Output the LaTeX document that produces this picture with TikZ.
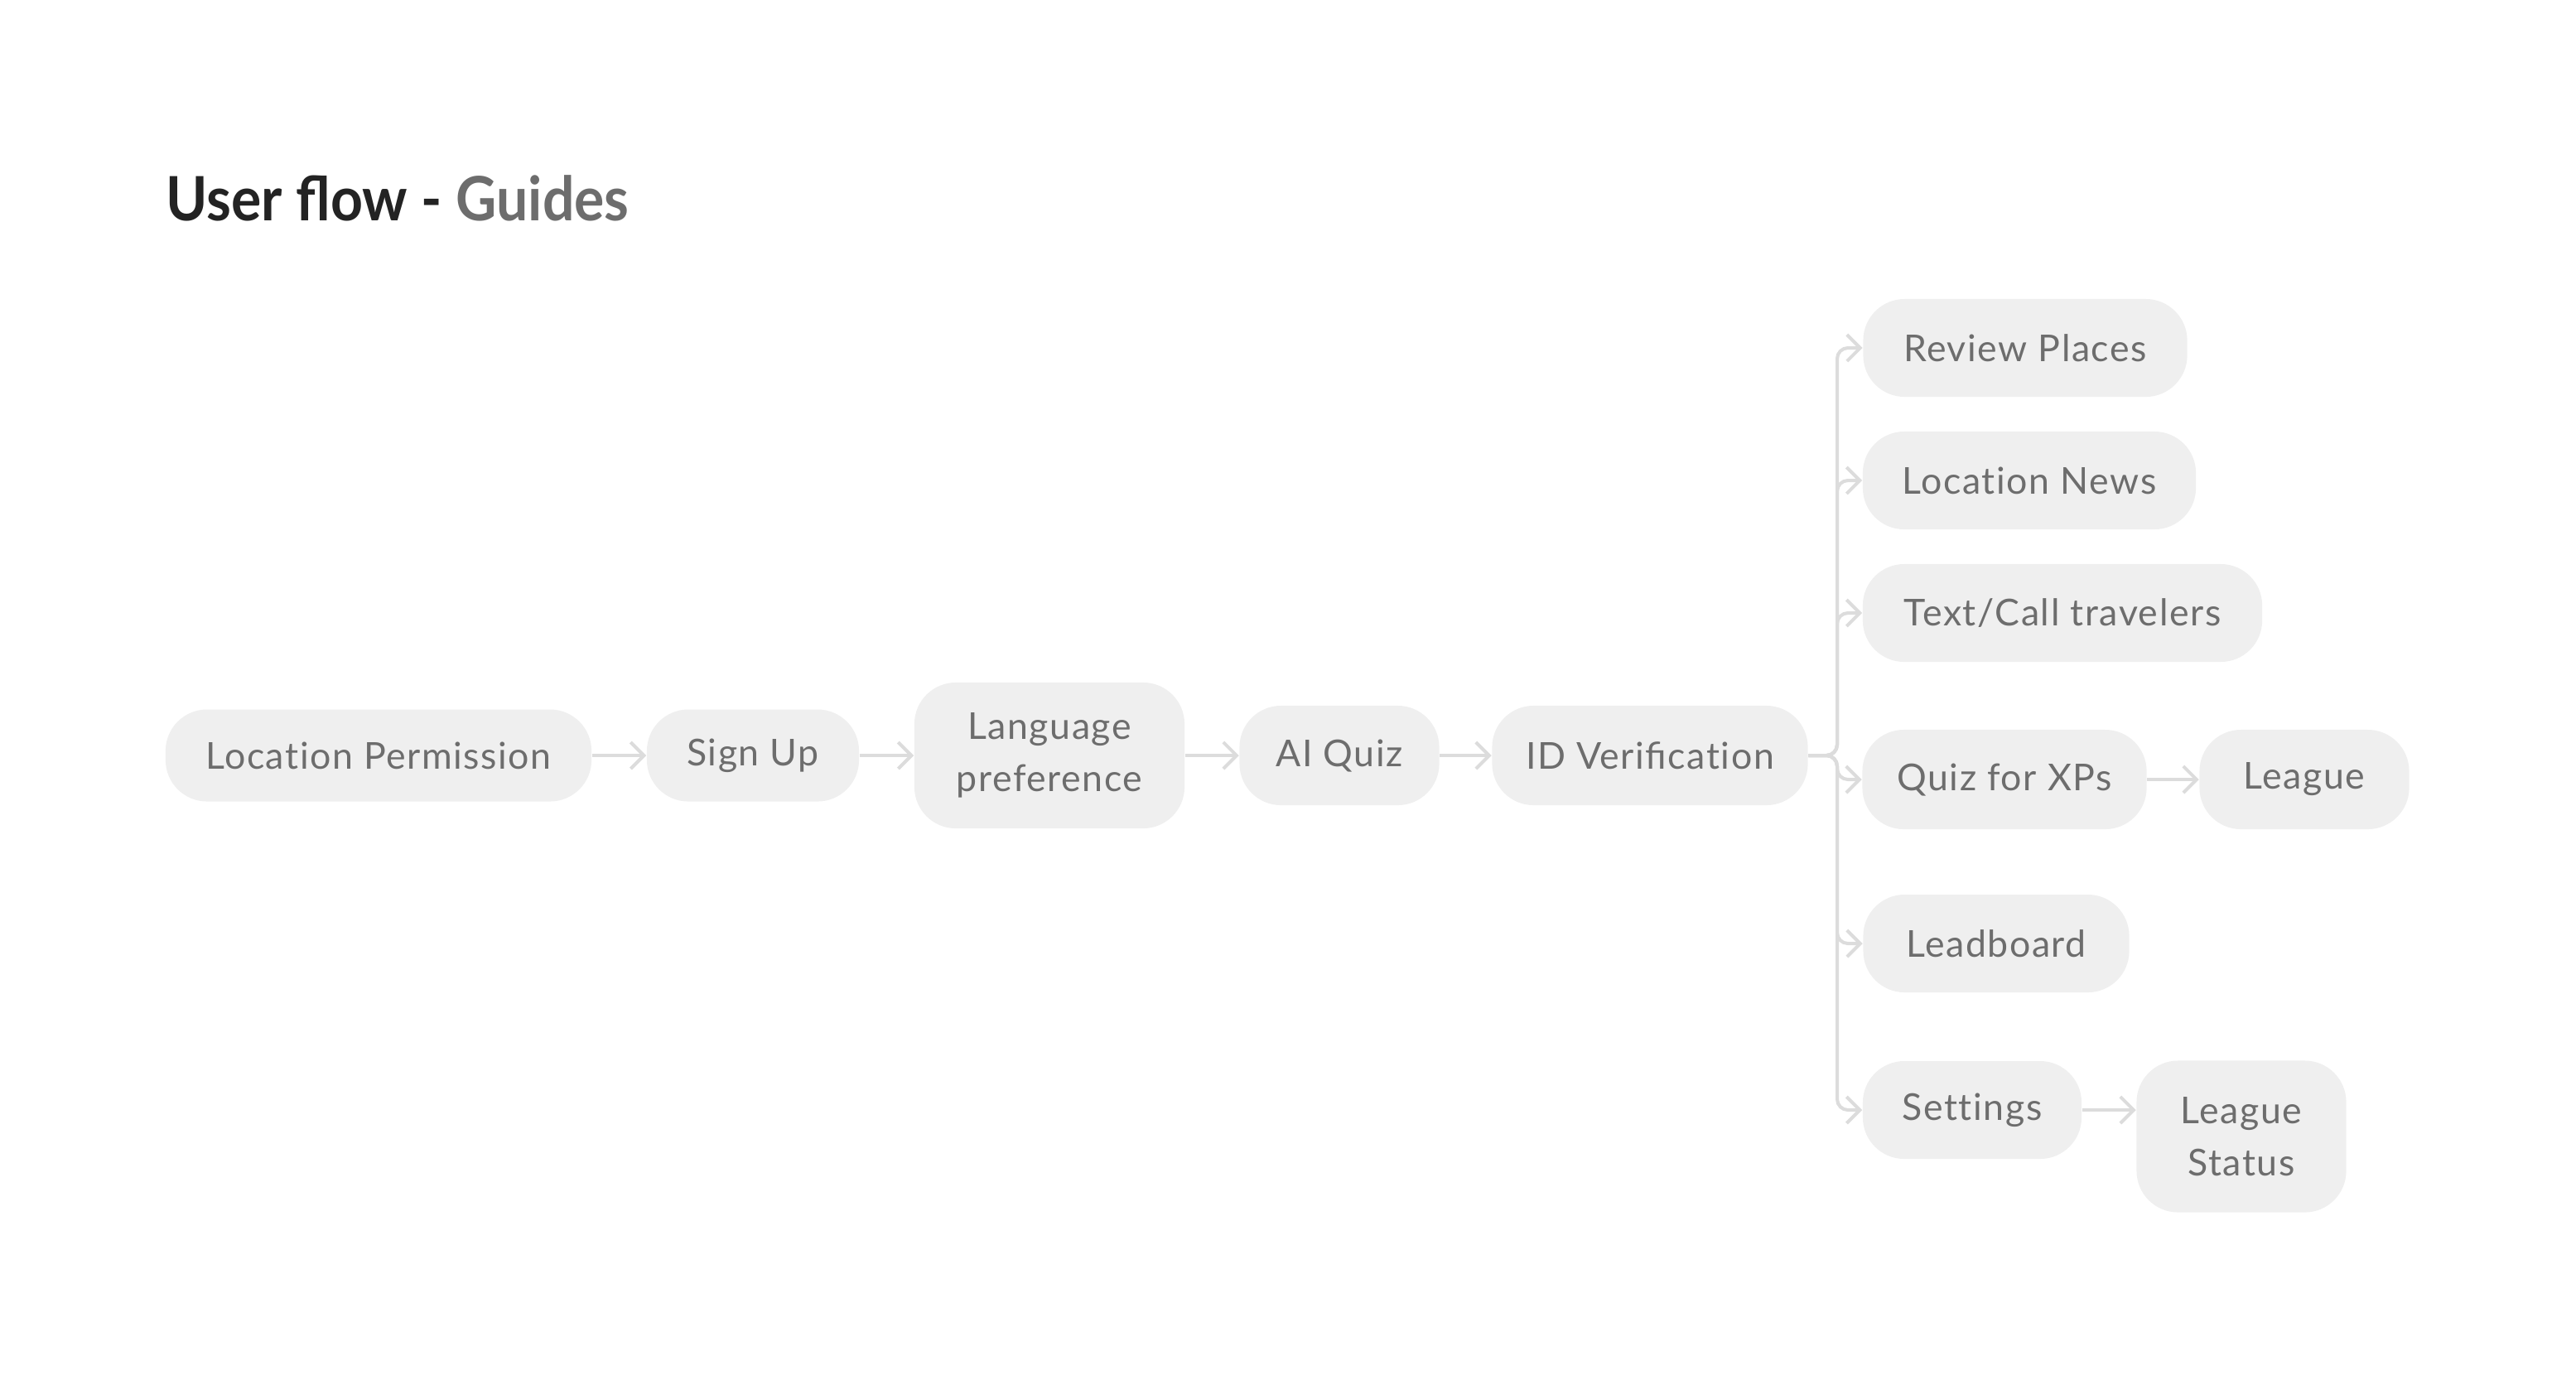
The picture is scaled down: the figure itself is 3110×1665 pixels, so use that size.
\documentclass[tikz,border=0pt]{standalone}
\usepackage{fontspec}
\setmainfont{Lato}[Ligatures=NoCommon,LetterSpace=3.5]
\newfontfamily\titlefont{Lato}[FakeStretch=0.92]
\usetikzlibrary{arrows.meta}
\definecolor{boxgray}{HTML}{EFEFEF}
\definecolor{textgray}{HTML}{6D6D6D}
\definecolor{linegray}{HTML}{DCDCDC}
\definecolor{titleblack}{HTML}{232323}

\begin{document}
\begin{tikzpicture}[x=0.01cm,y=-0.01cm,
    flowbox/.style={fill=boxgray,rounded corners=0.5cm,text=textgray,align=center,
      inner sep=0pt,font=\fontsize{12.7}{17.9}\selectfont},
    flowline/.style={draw=linegray,line width=1.15pt,
      -{Straight Barb[length=1.6mm,width=3.2mm]},rounded corners=0.13cm}]
      \useasboundingbox (0,0) rectangle (3110,1665);

      \node[anchor=base west,inner sep=0pt,font=\titlefont\bfseries\fontsize{21}{26}\selectfont] (title) at (200,266)
        {\textcolor{titleblack}{User ﬂow -} \textcolor{textgray}{Guides}};

      % main row
      \node[flowbox,minimum width=5.14cm,minimum height=1.11cm] (locperm) at (457,912) {Location Permission};
      \node[flowbox,minimum width=2.56cm,minimum height=1.11cm] (signup) at (909,912) {Sign Up};
      \node[flowbox,minimum width=3.26cm,minimum height=1.76cm] (langpref) at (1267,912) {Language\\preference};
      \node[flowbox,minimum width=2.41cm,minimum height=1.2cm] (aiquiz) at (1617,912) {AI Quiz};
      \node[flowbox,minimum width=3.81cm,minimum height=1.2cm] (idverif) at (1992,912) {ID Veriﬁcation};

      % branches
      \node[flowbox,minimum width=3.91cm,minimum height=1.18cm] (review) at (2445,420) {Review Places};
      \node[flowbox,minimum width=4.02cm,minimum height=1.18cm] (locnews) at (2450,580) {Location News};
      \node[flowbox,minimum width=4.82cm,minimum height=1.18cm] (textcall) at (2490,740) {Text/Call travelers};
      \node[flowbox,minimum width=3.43cm,minimum height=1.2cm] (quizxp) at (2420,941) {Quiz for XPs};
      \node[flowbox,minimum width=2.53cm,minimum height=1.2cm] (league) at (2782,941) {League};
      \node[flowbox,minimum width=3.21cm,minimum height=1.18cm] (leadboard) at (2410,1139) {Leadboard};
      \node[flowbox,minimum width=2.64cm,minimum height=1.18cm] (settings) at (2381,1340) {Settings};
      \node[flowbox,minimum width=2.53cm,minimum height=1.83cm] (lstatus) at (2706,1372) {League\\Status};

      \coordinate (split) at (2218,912);

      \draw[flowline] (locperm) -- (signup);
      \draw[flowline] (signup) -- (langpref);
      \draw[flowline] (langpref) -- (aiquiz);
      \draw[flowline] (aiquiz) -- (idverif);
      \foreach \target in {review,locnews,textcall,quizxp,leadboard,settings}
        \draw[flowline] (idverif.east) -- (split) |- (\target.west);
      \draw[flowline] (quizxp) -- (league);
      \draw[flowline] (settings.east) -- (settings.east -| lstatus.west);
    \end{tikzpicture}
\end{document}
